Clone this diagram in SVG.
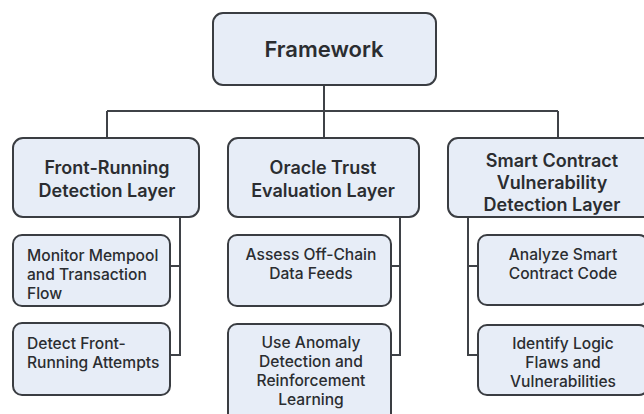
<svg xmlns="http://www.w3.org/2000/svg" width="644" height="414" viewBox="0 0 644 414">
<style>
.box{fill:#e7edf7;stroke:#3a3d42;stroke-width:2}
.t{font-family:Inter,"Liberation Sans",sans-serif;fill:#2b2d31}
.h{font-size:22px;font-weight:600}
.l{font-size:18px;font-weight:600}
.c{font-size:15.6px;font-weight:500}
.mid{text-anchor:middle}
.conn{fill:none;stroke:#3f4247;stroke-width:2}
</style>
<rect width="644" height="414" fill="#ffffff"/>
<g id="connectors" class="conn">
<path d="M324 85V138"/>
<path d="M107 111H558"/>
<path d="M107 111V138"/>
<path d="M558 111V138"/>
<path d="M180 217V355H170M180 266H170"/>
<path d="M400 217V355H391M400 266H391"/>
<path d="M468 217V355H478M468 266H478"/>
</g>
<g id="framework">
<rect class="box" x="213" y="13" width="223" height="72" rx="10"/>
<text class="t h mid" x="324" y="57">Framework</text>
</g>
<g id="front-running">
<rect class="box" x="13" y="138" width="186" height="79" rx="10"/>
<text class="t l mid" x="107" y="174">Front-Running</text>
<text class="t l mid" x="107" y="197">Detection Layer</text>
</g>
<g id="oracle">
<rect class="box" x="228" y="138" width="191" height="79" rx="10"/>
<text class="t l mid" x="323" y="174">Oracle Trust</text>
<text class="t l mid" x="323" y="197">Evaluation Layer</text>
</g>
<g id="smart-contract">
<rect class="box" x="448" y="138" width="208" height="79" rx="10"/>
<text class="t l mid" x="552" y="167">Smart Contract</text>
<text class="t l mid" x="552" y="189">Vulnerability</text>
<text class="t l mid" x="552" y="211">Detection Layer</text>
</g>
<g id="monitor">
<rect class="box" x="13" y="235" width="157" height="71" rx="9"/>
<text class="t c" x="27" y="261">Monitor Mempool</text>
<text class="t c" x="27" y="280">and Transaction</text>
<text class="t c" x="27" y="299">Flow</text>
</g>
<g id="detect-front">
<rect class="box" x="13" y="323" width="157" height="72" rx="9"/>
<text class="t c" x="27" y="349">Detect Front-</text>
<text class="t c" x="27" y="368">Running Attempts</text>
</g>
<g id="assess">
<rect class="box" x="228" y="235" width="163" height="71" rx="9"/>
<text class="t c mid" x="311" y="260">Assess Off-Chain</text>
<text class="t c mid" x="311" y="279">Data Feeds</text>
</g>
<g id="anomaly">
<rect class="box" x="228" y="324" width="163" height="100" rx="9"/>
<text class="t c mid" x="311" y="348">Use Anomaly</text>
<text class="t c mid" x="311" y="367">Detection and</text>
<text class="t c mid" x="311" y="386">Reinforcement</text>
<text class="t c mid" x="311" y="405">Learning</text>
</g>
<g id="analyze">
<rect class="box" x="478" y="235" width="170" height="70" rx="9"/>
<text class="t c mid" x="563" y="260">Analyze Smart</text>
<text class="t c mid" x="563" y="279">Contract Code</text>
</g>
<g id="identify">
<rect class="box" x="478" y="325" width="170" height="70" rx="9"/>
<text class="t c mid" x="563" y="349">Identify Logic</text>
<text class="t c mid" x="563" y="368">Flaws and</text>
<text class="t c mid" x="563" y="387">Vulnerabilities</text>
</g>
</svg>
